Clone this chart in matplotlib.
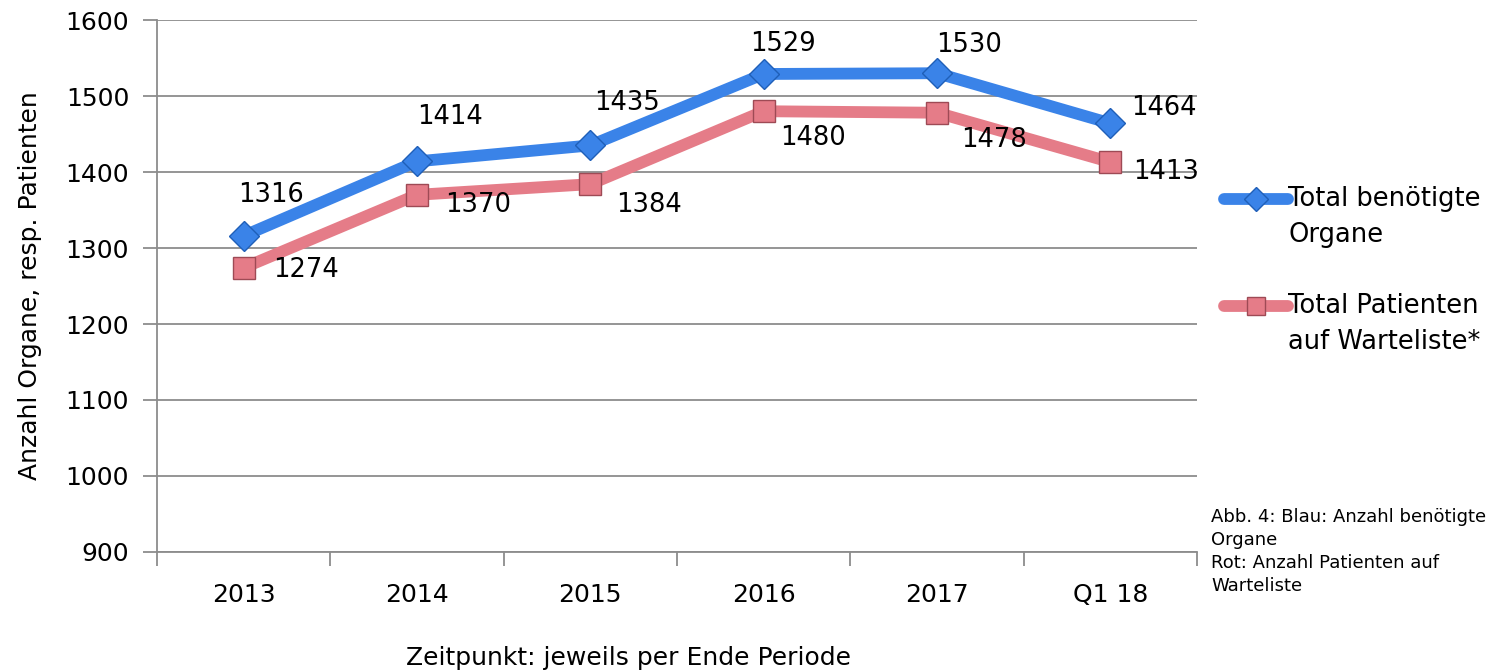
import matplotlib.pyplot as plt
import numpy as np
from matplotlib.legend_handler import HandlerLine2D

# data
categories = ['2013', '2014', '2015', '2016', '2017', 'Q1 18']
organe     = [1316, 1414, 1435, 1529, 1530, 1464]
patienten  = [1274, 1370, 1384, 1480, 1478, 1413]

# label offsets in pixels (style, not data)
off_blue = [(27, 41), (33, 44), (37, 42), (19, 30), (32, 28), (53, 15)]
off_red  = [(62, -2), (61, -10), (59, -21), (49, -27), (57, -27), (56, -10)]

blue = '#3A83E8'
red = '#E57C88'
grid_c = '#8C8C8C'

plt.rcParams['font.family'] = ['DejaVu Sans']


class TopLineHandler(HandlerLine2D):
    # put the legend handle next to the first line of a two-line label
    def create_artists(self, legend, orig_handle, xdescent, ydescent,
                       width, height, fontsize, trans):
        return super().create_artists(legend, orig_handle, xdescent,
                                      ydescent - 28, width, height,
                                      fontsize, trans)


fig = plt.figure(figsize=(14.89, 6.72), dpi=100)
ax = fig.add_axes([0.1054, 0.1786, 0.6986, 0.7916])

x = np.arange(len(categories))

l1, = ax.plot(x, organe, color=blue, lw=8.5, solid_capstyle='round',
              marker='D', ms=15, mfc=blue, mec='#1F5FB8', mew=1, zorder=3,
              label='Total benötigte\nOrgane')
l2, = ax.plot(x, patienten, color=red, lw=8.5, solid_capstyle='round',
              marker='s', ms=16, mfc=red, mec='#9E4A55', mew=1, zorder=3,
              label='Total Patienten\nauf Warteliste*')

for xi, v, (dx, dy) in zip(x, organe, off_blue):
    ax.annotate(str(v), (xi, v), xytext=(dx, dy), textcoords='offset pixels',
                ha='center', va='center', fontsize=18.5)
for xi, v, (dx, dy) in zip(x, patienten, off_red):
    ax.annotate(str(v), (xi, v), xytext=(dx, dy), textcoords='offset pixels',
                ha='center', va='center', fontsize=18.5)

ax.set_xlim(-0.5, 5.5)
ax.set_ylim(900, 1600)
ax.set_yticks(np.arange(900, 1601, 100))
ax.yaxis.grid(True, color=grid_c, lw=1.3)
ax.set_axisbelow(True)

ax.set_xticks(x)
ax.set_xticklabels(categories)
ax.set_xticks(np.arange(-0.5, 6, 1), minor=True)
ax.tick_params(axis='x', which='major', length=0, pad=22, labelsize=18)
ax.tick_params(axis='x', which='minor', length=10, width=1.3, color=grid_c, direction='out')
ax.tick_params(axis='y', length=10, width=1.3, color=grid_c, direction='out', labelsize=18, pad=10)

for s in ['top', 'right']:
    ax.spines[s].set_visible(False)
for s in ['left', 'bottom']:
    ax.spines[s].set_color(grid_c)
    ax.spines[s].set_linewidth(1.3)

ax.set_ylabel('Anzahl Organe, resp. Patienten', fontsize=18)
ax.yaxis.set_label_coords(-0.1106, 0.5)
fig.text(628 / 1489, 1 - 658 / 672, 'Zeitpunkt: jeweils per Ende Periode',
         ha='center', va='center', fontsize=18)

leg = fig.legend(handles=[l1, l2], loc='upper left',
                 bbox_to_anchor=(1224 / 1489, 1 - 186 / 672),
                 frameon=False, fontsize=18.5, handlelength=2.5, handletextpad=0.0,
                 labelspacing=1.75, borderaxespad=0, borderpad=0,
                 markerscale=0.8,
                 handler_map={l1: TopLineHandler(), l2: TopLineHandler()})
for t in leg.get_texts():
    t.set_linespacing(1.5)

fig.text(1211 / 1489, 1 - 508 / 672,
         'Abb. 4: Blau: Anzahl benötigte\nOrgane\nRot: Anzahl Patienten auf\nWarteliste',
         ha='left', va='top', fontsize=13, linespacing=1.35)

fig.savefig('out.png', dpi=100)
